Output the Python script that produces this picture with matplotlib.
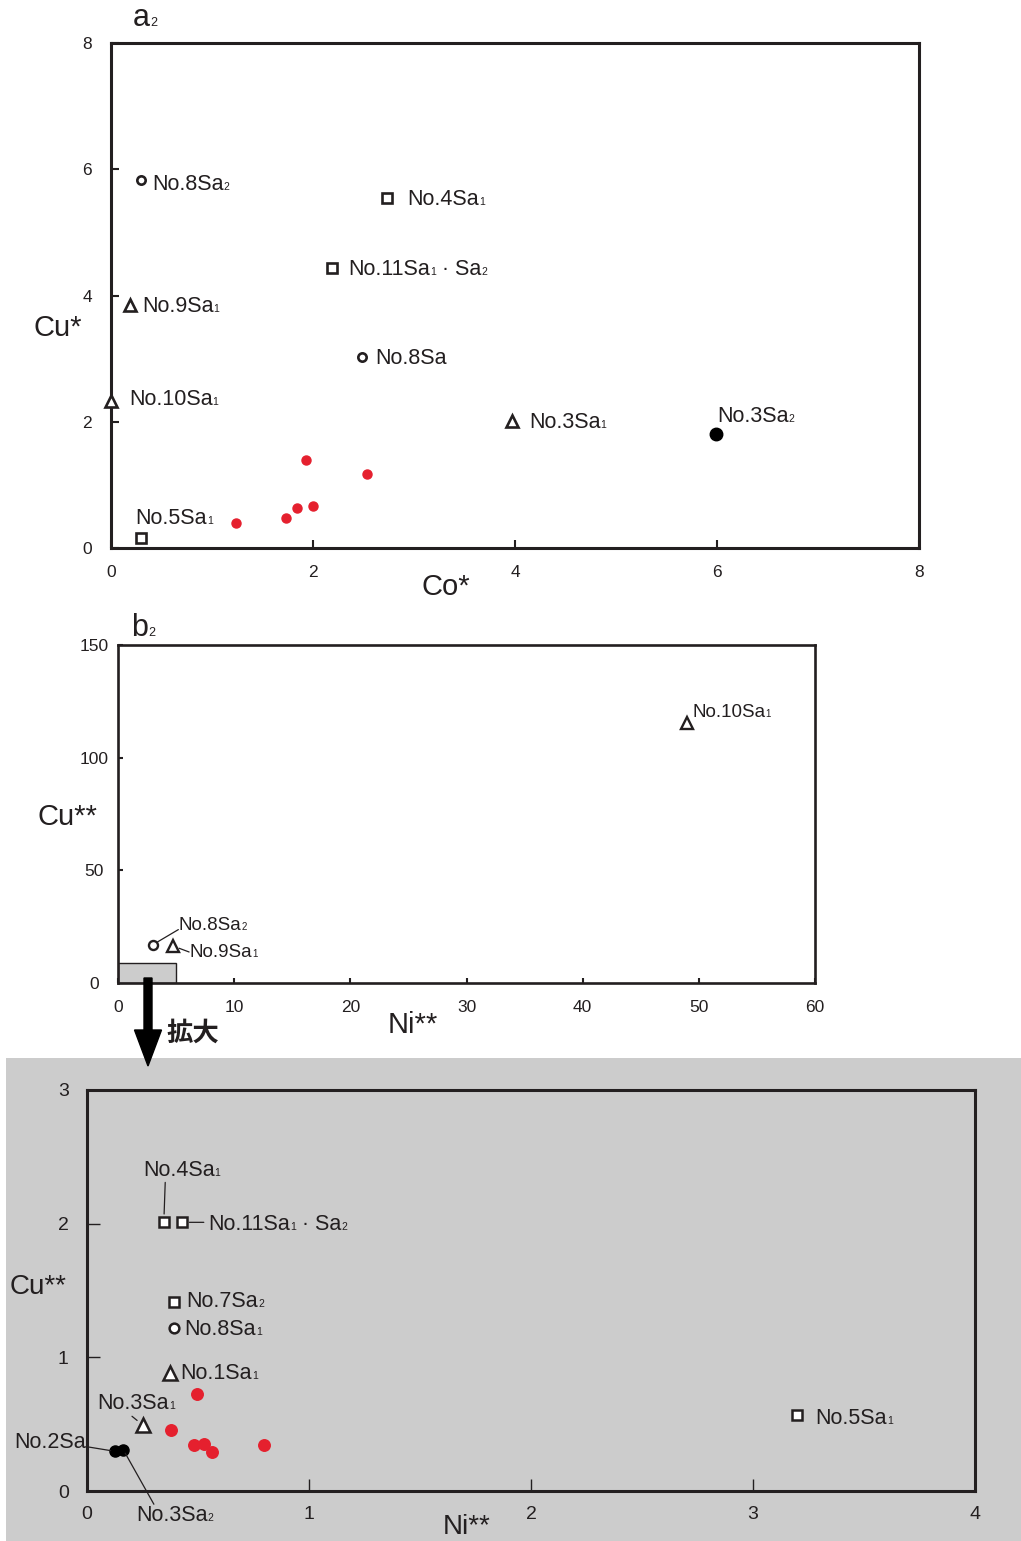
import matplotlib
matplotlib.use('Agg')
import matplotlib.pyplot as plt
from matplotlib.patches import Rectangle, FancyArrow
from matplotlib.offsetbox import TextArea, HPacker, AnnotationBbox

plt.rcParams['font.family'] = ['Liberation Sans', 'Noto Sans CJK JP', 'DejaVu Sans']

INK = '#231f20'
RED = '#e5202e'
GRAY = '#cccccc'

# ---------------- data: panel a2 (Co* vs Cu*) ----------------
a2_names = ['No.8Sa₂', 'No.4Sa₁', 'No.11Sa₁ · Sa₂', 'No.9Sa₁', 'No.8Sa',
            'No.10Sa₁', 'No.3Sa₁', 'No.3Sa₂', 'No.5Sa₁']
a2_co = [0.30, 2.73, 2.19, 0.19, 2.49, 0.00, 3.97, 5.99, 0.30]
a2_cu = [5.83, 5.55, 4.44, 3.85, 3.03, 2.33, 2.01, 1.81, 0.16]
a2_kind = ['o', 's', 's', '^', 'o', '^', '^', 'filled', 's']
a2_red_co = [1.93, 2.53, 1.24, 1.73, 1.84, 2.00]
a2_red_cu = [1.39, 1.17, 0.40, 0.47, 0.64, 0.67]

# ---------------- data: panel b2 (Ni** vs Cu**) ----------------
b2_names = ['No.10Sa₁', 'No.8Sa₂', 'No.9Sa₁']
b2_ni = [49.0, 3.0, 4.7]
b2_cu = [115.5, 17.0, 16.5]
b2_kind = ['^', 'o', '^']
zoom_box = (5, 9)   # enlarged region outline (Ni**, Cu**)

# ---------------- data: enlarged panel ----------------
c_names = ['No.4Sa₁', 'No.11Sa₁ · Sa₂', 'No.7Sa₂', 'No.8Sa₁', 'No.1Sa₁',
           'No.3Sa₁', 'No.2Sa', 'No.3Sa₂', 'No.5Sa₁']
c_ni = [0.346, 0.43, 0.39, 0.39, 0.375, 0.25, 0.125, 0.163, 3.20]
c_cu = [2.01, 2.01, 1.414, 1.22, 0.886, 0.495, 0.297, 0.31, 0.57]
c_kind = ['s', 's', 's', 'o', '^', '^', 'filled', 'filled', 's']
c_red_ni = [0.495, 0.379, 0.484, 0.527, 0.564, 0.796]
c_red_cu = [0.723, 0.458, 0.342, 0.354, 0.292, 0.344]

W, H = 1021, 1541
fig = plt.figure(figsize=(W / 100, H / 100), dpi=100)


def fx(px):
    return px / W


def fy(py):
    return 1 - py / H


SUBS = {'₁': '1', '₂': '2'}


def rich_box(name, fs, sfs):
    runs = []
    for ch in name:
        small = ch in SUBS
        c = SUBS.get(ch, ch)
        if runs and runs[-1][1] == small:
            runs[-1][0] += c
        else:
            runs.append([c, small])
    areas = [TextArea(t, textprops=dict(fontsize=(sfs if s else fs), color=INK))
             for t, s in runs]
    return HPacker(children=areas, align='baseline', pad=0, sep=0)


def label(ax, name, xy, off, fs, sfs, arrow=None, coords='data', align=(0, 0.58)):
    kw = {}
    if arrow is not None:
        d = dict(arrowstyle='-', color=INK, lw=0.9)
        d.update(arrow)
        kw['arrowprops'] = d
    ab = AnnotationBbox(rich_box(name, fs, sfs), xy, xybox=off, xycoords=coords,
                        boxcoords='offset pixels', box_alignment=align,
                        frameon=False, pad=0, annotation_clip=False, **kw)
    ab.set_zorder(6)
    ax.add_artist(ab)


# gray background of the enlarged panel
fig.add_artist(Rectangle((fx(6), 0), 1 - fx(6), fy(1058), transform=fig.transFigure,
                         facecolor=GRAY, edgecolor='none', zorder=-5))


def style_axes(ax, spine_lw, tick_len, tick_w, fs, xpad, ypad):
    for s in ax.spines.values():
        s.set_linewidth(spine_lw)
        s.set_color(INK)
    ax.tick_params(direction='in', length=tick_len, width=tick_w, colors=INK,
                   labelsize=fs, labelcolor=INK)
    ax.tick_params(axis='x', pad=xpad)
    ax.tick_params(axis='y', pad=ypad)
    for lab in ax.get_yticklabels():
        lab.set_horizontalalignment('center')


def draw_points(ax, xs, ys, kinds, ms_sq, ms_o, ms_tri, ms_fill, mew, z=5):
    for x, y, k in zip(xs, ys, kinds):
        if k == 'filled':
            ax.plot(x, y, 'o', ms=ms_fill, color='black', mec='black', zorder=z, clip_on=False)
        else:
            ms = {'s': ms_sq, 'o': ms_o, '^': ms_tri}[k]
            ax.plot(x, y, marker=k, ms=ms, mfc='white', mec=INK, mew=mew,
                    linestyle='none', zorder=z, clip_on=False)


# ================= panel a2 =================
ax1 = fig.add_axes([fx(111), fy(548), fx(919) - fx(111), fy(43) - fy(548)])
ax1.set_xlim(0, 8)
ax1.set_ylim(0, 8)
ax1.set_xticks([0, 2, 4, 6, 8])
ax1.set_yticks([0, 2, 4, 6, 8])
style_axes(ax1, 2.2, 6, 1.5, 12.5, 12, 17)
draw_points(ax1, a2_co, a2_cu, a2_kind, 6.8, 6.0, 9.0, 9.0, 1.9)
ax1.plot(a2_red_co, a2_red_cu, 'o', ms=6.5, color=RED, linestyle='none', zorder=4)

a2_off = [(11, -3), (21, 0), (16, 0), (12, 0), (13, 0), (18, 3), (17, 0), (1, 19), (-6, 21)]
for name, x, y, off in zip(a2_names, a2_co, a2_cu, a2_off):
    label(ax1, name, (x, y), off, 15.5, 7.5)

label(fig, 'a₂', (133, H - 16), (0, 0), 22, 9, coords='figure pixels')
fig.text(fx(58), fy(328), 'Cu*', fontsize=21, color=INK, ha='center', va='center')
fig.text(fx(446), fy(587), 'Co*', fontsize=21, color=INK, ha='center', va='center')

# ================= panel b2 =================
ax2 = fig.add_axes([fx(118), fy(983), fx(815) - fx(118), fy(645) - fy(983)])
ax2.set_xlim(0, 60)
ax2.set_ylim(0, 150)
ax2.set_xticks([0, 10, 20, 30, 40, 50, 60])
ax2.set_yticks([0, 50, 100, 150])
style_axes(ax2, 1.9, 3.5, 1.5, 12.5, 12, 17)
ax2.add_patch(Rectangle((0, 0), zoom_box[0], zoom_box[1], facecolor=GRAY,
                        edgecolor=INK, linewidth=1.0, zorder=2))
draw_points(ax2, b2_ni, b2_cu, b2_kind, 6.5, 6.5, 8.5, 8, 1.7)

label(ax2, b2_names[0], (b2_ni[0], b2_cu[0]), (5, 12), 13.5, 7)
label(ax2, b2_names[1], (b2_ni[1], b2_cu[1]), (26, 21), 13.5, 7,
      arrow=dict(relpos=(0, 0.25), shrinkA=0, shrinkB=4))
label(ax2, b2_names[2], (b2_ni[2], b2_cu[2]), (17, -5), 13.5, 7,
      arrow=dict(relpos=(0, 0.5), shrinkA=0, shrinkB=5))

label(fig, 'b₂', (131, H - 626), (0, 0), 22, 9, coords='figure pixels')
fig.text(fx(67), fy(817), 'Cu**', fontsize=21, color=INK, ha='center', va='center')
fig.text(fx(413), fy(1025), 'Ni**', fontsize=21, color=INK, ha='center', va='center')

# arrow + 拡大
fig.add_artist(FancyArrow(fx(148), fy(978), 0, fy(1066) - fy(978), width=fx(8),
                          head_width=fx(27), head_length=fy(1030) - fy(1066),
                          length_includes_head=True, transform=fig.transFigure,
                          facecolor='black', edgecolor='black', zorder=20))
fig.text(fx(193), fy(1033), '拡大', fontsize=19, fontweight='bold', color=INK,
         family=['Noto Sans CJK JP'], ha='center', va='center')

# ================= enlarged panel =================
ax3 = fig.add_axes([fx(87), fy(1491), fx(975) - fx(87), fy(1090) - fy(1491)])
ax3.set_facecolor(GRAY)
ax3.set_xlim(0, 4)
ax3.set_ylim(0, 3)
ax3.set_xticks([0, 1, 2, 3, 4])
ax3.set_yticks([0, 1, 2, 3])
style_axes(ax3, 2.2, 9, 1.0, 14, 11, 17)
draw_points(ax3, c_ni, c_cu, c_kind, 7.6, 7.0, 9.6, 8.0, 1.8)
ax3.plot(c_red_ni, c_red_cu, 'o', ms=8.3, color=RED, linestyle='none', zorder=4)

c_ann = [
    ((-21, 54), dict(relpos=(0.29, 0), shrinkA=1, shrinkB=6)),
    ((26, 0), dict(relpos=(0, 0.58), shrinkA=3, shrinkB=5)),
    ((13, 2), None),
    ((11, 0), None),
    ((10, 1), None),
    ((-45, 23), dict(relpos=(0.41, 0), shrinkA=2, shrinkB=5)),
    ((-101, 10), dict(relpos=(0.97, 0.35), shrinkA=0, shrinkB=3)),
    ((13, -64), dict(relpos=(0.24, 0.95), shrinkA=0, shrinkB=3)),
    ((18, -2), None),
]
for name, x, y, (off, arr) in zip(c_names, c_ni, c_cu, c_ann):
    label(ax3, name, (x, y), off, 15.5, 7.5, arrow=arr)

fig.text(fx(38), fy(1287), 'Cu**', fontsize=20, color=INK, ha='center', va='center')
fig.text(fx(467), fy(1527), 'Ni**', fontsize=20, color=INK, ha='center', va='center')

fig.savefig('out.png', dpi=100)
